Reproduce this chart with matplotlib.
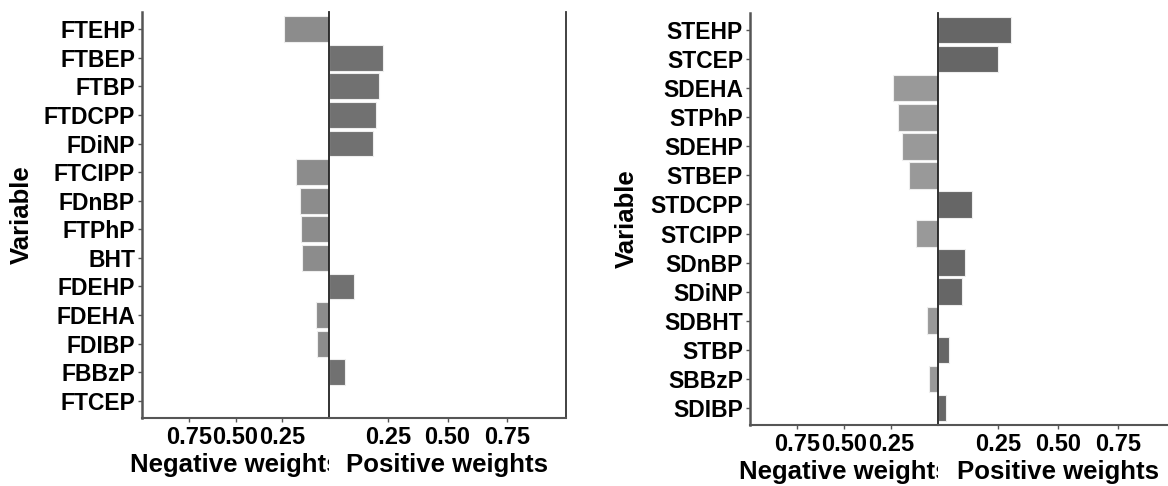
import numpy as np
import matplotlib
matplotlib.use("Agg")
import matplotlib.pyplot as plt
from matplotlib.transforms import Bbox

plt.rcParams["font.family"] = ["Liberation Sans", "DejaVu Sans"]
plt.rcParams["font.weight"] = "bold"

# left chart (top to bottom)
left_vars = ["FTEHP", "FTBEP", "FTBP", "FTDCPP", "FDiNP", "FTCIPP", "FDnBP",
             "FTPhP", "BHT", "FDEHP", "FDEHA", "FDIBP", "FBBzP", "FTCEP"]
left_w = [-0.24, 0.226, 0.21, 0.20, 0.186, -0.176, -0.157,
          -0.15, -0.142, 0.107, -0.071, -0.065, 0.066, 0.0]

# right chart (top to bottom)
right_vars = ["STEHP", "STCEP", "SDEHA", "STPhP", "SDEHP", "STBEP", "STDCPP",
              "STCIPP", "SDnBP", "SDiNP", "SDBHT", "STBP", "SBBzP", "SDIBP"]
right_w = [0.305, 0.25, -0.238, -0.211, -0.19, -0.153, 0.142,
           -0.119, 0.111, 0.098, -0.059, 0.044, -0.048, 0.033]

tick_vals = [0.25, 0.50, 0.75]
tick_labels = ["0.25", "0.50", "0.75"]

W, H = 1168, 486
fig = plt.figure(figsize=(W / 100, H / 100), dpi=100)


def px_axes(x0, x1, top, bottom):
    return fig.add_axes([x0 / W, 1 - bottom / H, (x1 - x0) / W, (bottom - top) / H])


def draw_chart(names, weights, x_left, x_zero, x_right, top, bottom,
               neg_col, pos_col, right_border, ylab_x):
    n = len(names)
    pos = np.arange(n)
    w = np.array(weights)
    axn = px_axes(x_left, x_zero, top, bottom)
    axp = px_axes(x_zero, x_right, top, bottom)

    neg_vals = np.where(w < 0, -w, 0)
    pos_vals = np.where(w > 0, w, 0)
    axn.barh(pos[w < 0], neg_vals[w < 0], height=0.9, color=neg_col,
             edgecolor="#eeeeee", linewidth=0.8)
    axp.barh(pos[w > 0], pos_vals[w > 0], height=0.9, color=pos_col,
             edgecolor="#eeeeee", linewidth=0.8)

    for ax in (axn, axp):
        ax.set_ylim(n - 1 + 0.6, -0.6)
        ax.set_xticks(tick_vals)
        ax.set_xticklabels(tick_labels, fontsize=17, fontweight="bold")
        ax.tick_params(axis="x", length=3, width=1, color="#555555", pad=3)
        ax.spines["top"].set_visible(False)
        ax.spines["bottom"].set_color("#555555")
        ax.spines["bottom"].set_linewidth(1.5)
        ax.patch.set_alpha(0)

    axn.set_xlim(1, 0)
    axp.set_xlim(0, 1)

    axn.set_yticks(pos)
    axn.set_yticklabels(names, fontsize=16.5, fontweight="bold")
    axn.tick_params(axis="y", length=3, width=1, color="#555555", pad=2)
    axn.spines["left"].set_color("#555555")
    axn.spines["left"].set_linewidth(1.8)
    axn.spines["right"].set_visible(False)

    axp.set_yticks([])
    axp.spines["left"].set_color("#222222")
    axp.spines["left"].set_linewidth(1.3)
    axp.spines["right"].set_visible(right_border)
    axp.spines["right"].set_color("#333333")
    axp.spines["right"].set_linewidth(1.3)

    # axis titles
    ylab_y = 1 - (top + bottom) / 2 / H
    fig.text(ylab_x / W, ylab_y, "Variable", rotation=90, fontsize=18.5,
             fontweight="bold", ha="center", va="center")
    neg_lab = fig.text((x_left + x_zero) / 2 / W, 1 - (bottom + 47) / H,
                       "Negative weights", fontsize=18.5, fontweight="bold",
                       ha="center", va="center")
    neg_lab.set_clip_box(Bbox([[0, 0], [x_zero, H]]))
    neg_lab.set_clip_on(True)
    fig.text((x_zero + x_right) / 2 / W, 1 - (bottom + 47) / H,
             "Positive weights", fontsize=18.5, fontweight="bold",
             ha="center", va="center")


draw_chart(left_vars, left_w, 142, 329, 566, 12, 418,
           "#8c8c8c", "#717171", True, 22)
draw_chart(right_vars, right_w, 750, 938, 1178, 13, 425,
           "#999999", "#666666", False, 627)

fig.savefig("out.png", dpi=100)
